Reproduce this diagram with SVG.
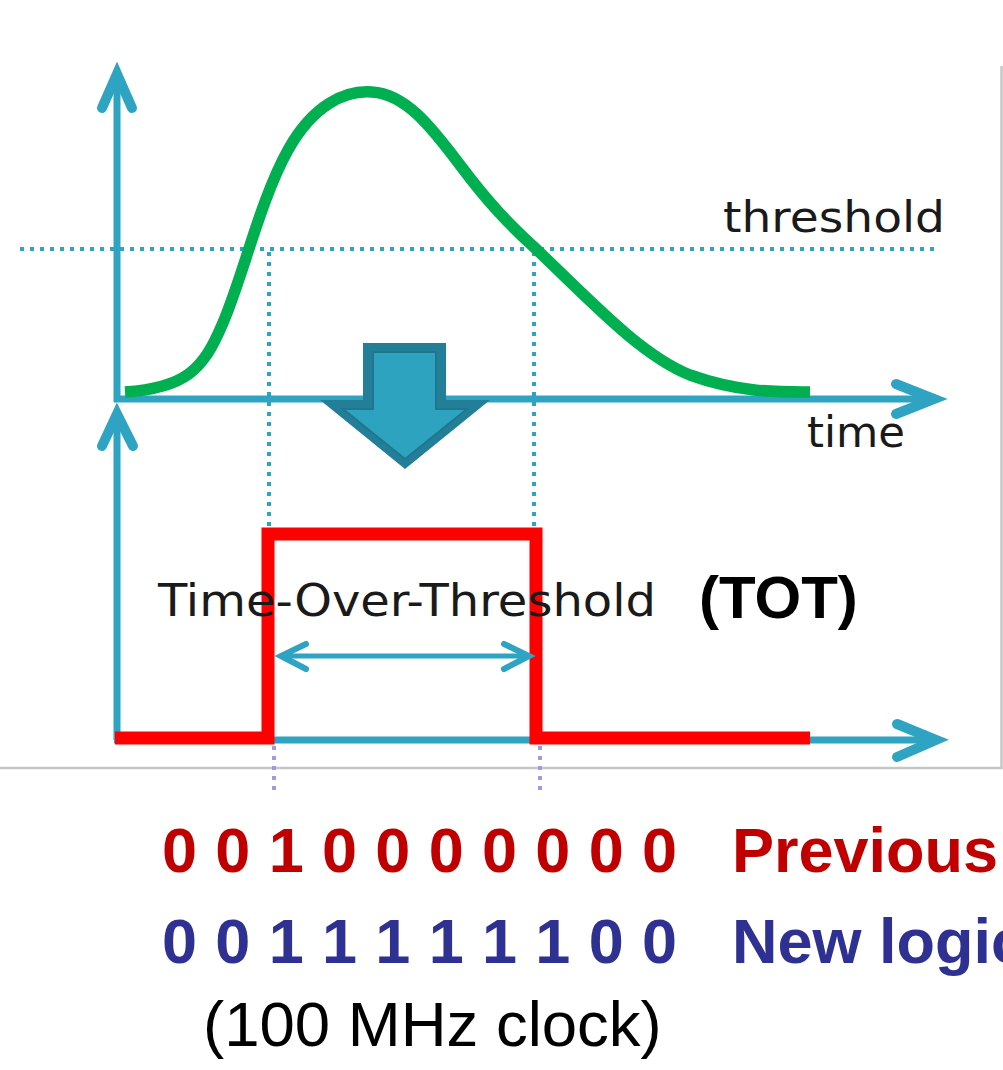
<svg xmlns="http://www.w3.org/2000/svg" width="1003" height="1070" viewBox="0 0 1003 1070">
  <style>
    .axis { stroke: #2ea4c2; stroke-width: 7; fill: none; stroke-linecap: butt; }
    .head { stroke: #2ea4c2; stroke-width: 10; fill: none; stroke-linecap: round; stroke-linejoin: miter; }
    .dots { stroke: #2ea4c2; stroke-width: 4; stroke-dasharray: 4 6; fill: none; }
    .dots2 { stroke: #9c9ce0; stroke-width: 4; stroke-dasharray: 4 6; fill: none; }
    .hand { font-family: "DejaVu Sans", "Noto Sans", sans-serif; fill: #1a1a1a; }
    .bold { font-family: "Liberation Sans", Arial, sans-serif; font-weight: bold; }
    .reg { font-family: "Liberation Sans", Arial, sans-serif; }
  </style>
  <rect width="1003" height="1070" fill="#ffffff"/>

  <!-- frame of the plot panel -->
  <path d="M0,768 H1001.5 V66" fill="none" stroke="#c6c6c6" stroke-width="2.5"/>

  <!-- threshold level and crossing guides -->
  <g id="guides">
    <line class="dots" x1="20" y1="249" x2="935" y2="249"/>
    <line class="dots" x1="269" y1="252" x2="269" y2="530"/>
    <line class="dots" x1="534" y1="252" x2="534" y2="530"/>
    <line class="dots2" x1="274" y1="746" x2="274" y2="792"/>
    <line class="dots2" x1="540" y1="746" x2="540" y2="792"/>
  </g>

  <!-- axes -->
  <g id="axes">
    <line class="axis" x1="117" y1="402" x2="117" y2="78"/>
    <polyline class="head" points="102,108 117,74 132,108"/>
    <line class="axis" x1="114" y1="399" x2="930" y2="399"/>
    <polyline class="head" points="896,384 934,399 896,414"/>
    <line class="axis" x1="117" y1="740" x2="117" y2="418"/>
    <polyline class="head" points="102,446 117,414 133,446"/>
    <line class="axis" x1="114" y1="740" x2="932" y2="740"/>
    <polyline class="head" points="897,724 936,740 897,757"/>
  </g>

  <!-- analog pulse -->
  <g id="signal">
    <path d="M125,392 C185,388 203,370 222,325 C242,280 260,200 288,150 C313,105 345,90 372,92 C405,94 430,125 460,165 C490,205 510,225 535,248 C590,300 640,355 690,375 C740,393 780,392 810,392" fill="none" stroke="#00b050" stroke-width="11.5" stroke-linecap="butt"/>
  </g>

  <!-- conversion arrow -->
  <g id="convert">
    <polygon points="363,343 446,343 446,400 490,400 405,469 320,400 363,400" fill="#237f98"/>
    <polygon points="373,352 436,352 436,409 467,409 405,459 343,409 373,409" fill="#2ea3c0" stroke="#1f7690" stroke-width="2"/>
    <polygon points="379,358 430,358 430,414 455,414 405,454 355,414 379,414" fill="#2ea3c0"/>
  </g>

  <!-- digital TOT pulse -->
  <g id="tot-pulse">
    <polyline points="115,738 268,738 268,534 536,534 536,738 810,738" fill="none" stroke="#ff0000" stroke-width="13" stroke-linejoin="miter"/>
  </g>

  <!-- width marker -->
  <g id="width-marker">
    <line x1="282" y1="656" x2="528" y2="656" stroke="#2ea4c2" stroke-width="5"/>
    <polyline points="306,644 281,656 306,669" fill="none" stroke="#2ea4c2" stroke-width="6" stroke-linecap="round"/>
    <polyline points="504,644 529,656 504,669" fill="none" stroke="#2ea4c2" stroke-width="6" stroke-linecap="round"/>
  </g>

  <!-- labels -->
  <g id="labels">
    <text class="hand" x="723" y="232" font-size="42" textLength="222" lengthAdjust="spacingAndGlyphs">threshold</text>
    <text class="hand" x="807" y="447" font-size="42" textLength="98" lengthAdjust="spacingAndGlyphs">time</text>
    <text class="hand" x="158" y="616" font-size="44" textLength="498" lengthAdjust="spacingAndGlyphs">Time-Over-Threshold</text>
    <text class="bold" x="699" y="618" font-size="60" fill="#000000">(TOT)</text>
  </g>

  <!-- bit streams -->
  <g id="bits">
    <text class="bold" x="162" y="872" font-size="63" fill="#c00000" textLength="515" lengthAdjust="spacing">0 0 1 0 0 0 0 0 0 0</text>
    <text class="bold" x="732" y="872" font-size="63" fill="#c00000">Previous</text>
    <text class="bold" x="162" y="963" font-size="63" fill="#2e3192" textLength="515" lengthAdjust="spacing">0 0 1 1 1 1 1 1 0 0</text>
    <text class="bold" x="732" y="963" font-size="63" fill="#2e3192">New logic</text>
    <text class="reg" x="203" y="1046" font-size="63.5" fill="#000000">(100 MHz clock)</text>
  </g>
</svg>
